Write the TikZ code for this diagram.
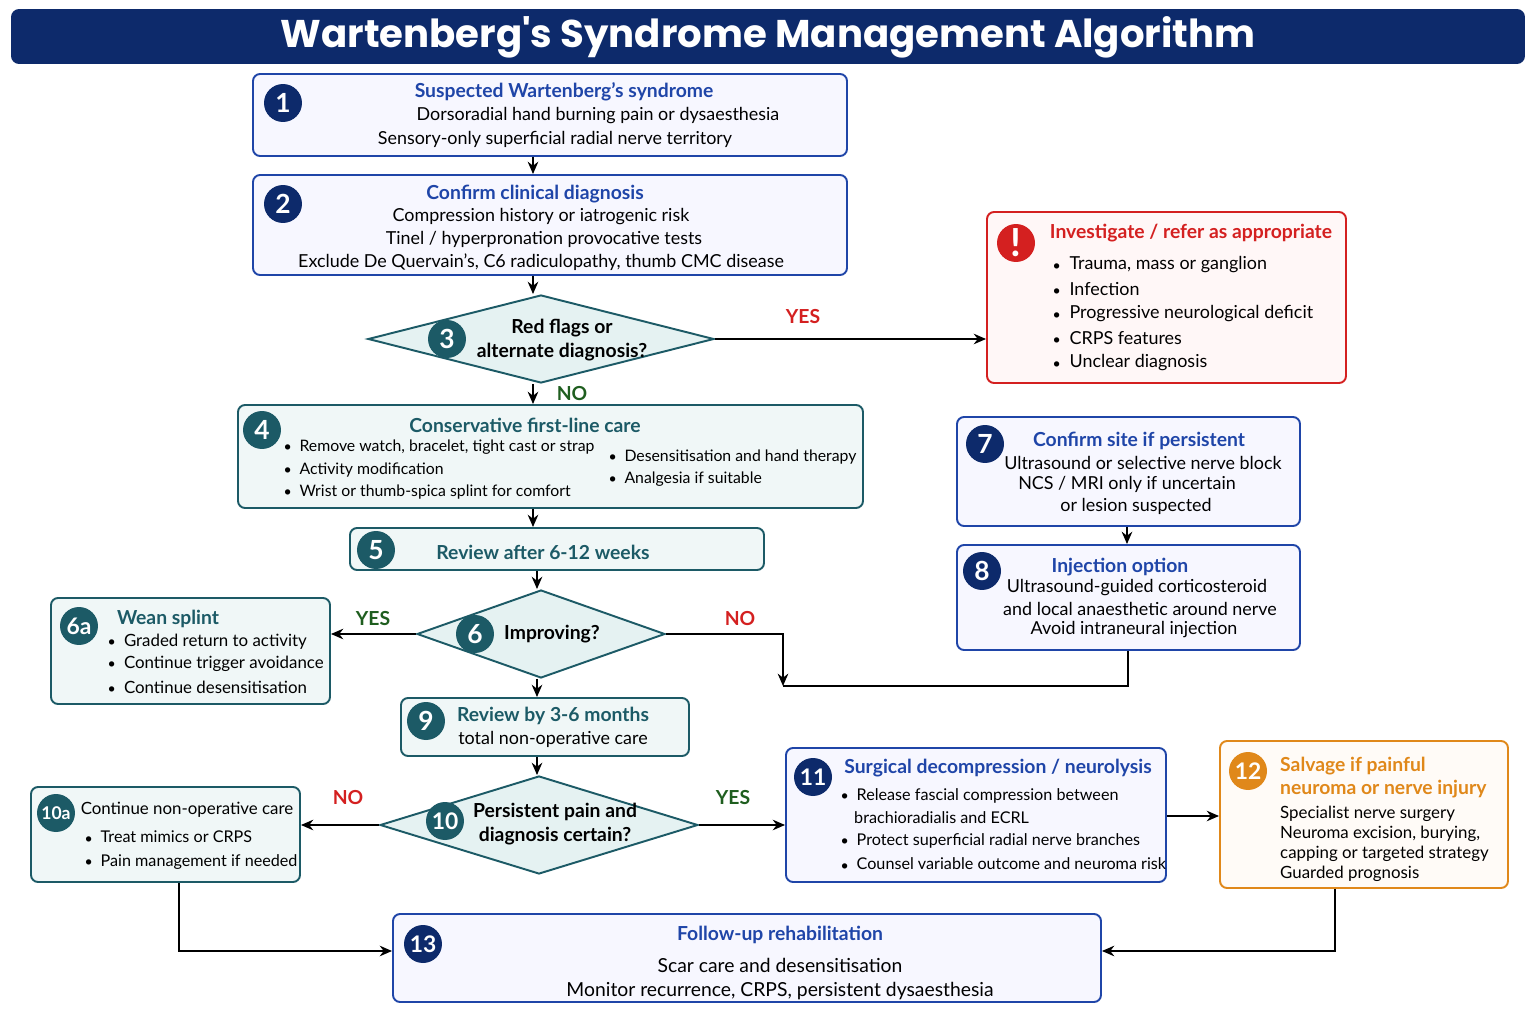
\documentclass[tikz,border=0pt]{standalone}
\usepackage{fontspec}
\setmainfont{Lato}
\newfontfamily\titlefont{Poppins}
\usetikzlibrary{shapes.geometric,arrows.meta}
\definecolor{navy}{HTML}{0D2A6B}
\definecolor{bblue}{HTML}{1F45A8}
\definecolor{tteal}{HTML}{1C5A66}
\definecolor{rred}{HTML}{D42020}
\definecolor{oorange}{HTML}{E0881A}
\definecolor{ggreen}{HTML}{1F5E1F}
\newcommand{\bul}{\raisebox{0.1ex}{\scriptsize$\bullet$}}
\begin{document}
\begin{tikzpicture}[x=0.02cm,y=-0.02cm,font=\fontsize{10.2}{11}\selectfont]
	\tikzstyle{box}=[draw,rounded corners=4pt,line width=1.1pt,inner sep=0pt]
	\tikzstyle{b-box}=[box,draw=bblue,fill=blue!3]
	\tikzstyle{t-box}=[box,draw=tteal,fill=teal!6]
	\tikzstyle{r-box}=[box,draw=rred,fill=red!3]
	\tikzstyle{o-box}=[box,draw=oorange,fill=orange!3]
	\tikzstyle{dec}=[diamond,draw=tteal,fill=teal!10,line width=1.1pt,inner sep=0pt]
	\tikzstyle{badge}=[circle,inner sep=0pt,minimum size=0.76cm,text=white,font=\fontsize{15}{15}\selectfont\bfseries]
	\tikzstyle{b-title}=[text=bblue,font=\fontsize{11}{12}\selectfont\bfseries]
	\tikzstyle{t-title}=[text=tteal,font=\fontsize{11}{12}\selectfont\bfseries]
	\tikzstyle{bul}=[anchor=west]
	\tikzstyle{sbul}=[anchor=west,font=\fontsize{9}{10}\selectfont]
	\tikzstyle{arr}=[-{Stealth[length=7pt,width=6pt]},line width=1.1pt]
	\tikzstyle{yes}=[text=ggreen,font=\fontsize{11}{12}\selectfont\bfseries]
	\tikzstyle{no}=[text=rred,font=\fontsize{11}{12}\selectfont\bfseries]
	\def\bx#1#2#3#4#5#6{\node[#2,minimum width={(#5-#3)*0.02cm},minimum height={(#6-#4)*0.02cm}] (#1) at ({(#3+#5)/2},{(#4+#6)/2}) {};}
	\useasboundingbox[fill=white] (0,0) rectangle (1536,1024);

	% title
	\bx{title}{box,fill=navy,draw=navy}{12}{10}{1524}{63}
	\node[text=white,font=\titlefont\fontsize{22}{24}\selectfont\bfseries] (ttext) at (768,37) {Wartenberg's Syndrome Management Algorithm};

	% boxes
	\bx{b1}{b-box}{253}{74}{847}{156}
	\bx{b2}{b-box}{253}{175}{847}{275}
	\node[dec,minimum width=6.92cm,minimum height=1.76cm] (d3) at (541,339) {};
	\bx{bred}{r-box}{987}{212}{1346}{383}
	\bx{b4}{t-box}{238}{405}{863}{508}
	\bx{b5}{t-box}{350}{528}{764}{570}
	\node[dec,minimum width=4.96cm,minimum height=1.76cm] (d6) at (541,634) {};
	\bx{b6a}{t-box}{51}{598}{330}{704}
	\bx{b7}{b-box}{957}{417}{1300}{526}
	\bx{b8}{b-box}{957}{545}{1300}{650}
	\bx{b9}{t-box}{401}{698}{689}{756}
	\node[dec,minimum width=6.36cm,minimum height=1.96cm] (d10) at (539,825) {};
	\bx{b10a}{t-box}{31}{787}{300}{882}
	\bx{b11}{b-box}{786}{748}{1166}{882}
	\bx{b12}{o-box}{1220}{741}{1508}{888}
	\bx{b13}{b-box}{393}{914}{1101}{1002}

	% badges
	\node[badge,fill=navy] (n1) at (283,103) {1};
	\node[badge,fill=navy] (n2) at (283,204) {2};
	\node[badge,fill=tteal] (n3) at (447,339) {3};
	\node[badge,fill=rred,font=\fontsize{22}{22}\selectfont\bfseries] (nx) at (1016,243) {!};
	\node[badge,fill=tteal] (n4) at (262,430) {4};
	\node[badge,fill=tteal] (n5) at (376,550) {5};
	\node[badge,fill=tteal] (n6) at (475,634) {6};
	\node[badge,fill=tteal,font=\fontsize{13}{13}\selectfont\bfseries] (n6a) at (79,626) {6a};
	\node[badge,fill=navy] (n7) at (985,444) {7};
	\node[badge,fill=navy] (n8) at (982,571) {8};
	\node[badge,fill=tteal] (n9) at (426,721) {9};
	\node[badge,fill=tteal,font=\fontsize{13}{13}\selectfont\bfseries] (n10) at (445,821) {10};
	\node[badge,fill=tteal,font=\fontsize{10}{10}\selectfont\bfseries] (n10a) at (56,813) {10a};
	\node[badge,fill=navy,font=\fontsize{13}{13}\selectfont\bfseries] (n11) at (813,777) {11};
	\node[badge,fill=oorange,font=\fontsize{13}{13}\selectfont\bfseries] (n12) at (1248,771) {12};
	\node[badge,fill=navy,font=\fontsize{13}{13}\selectfont\bfseries] (n13) at (423,944) {13};

	% texts
	\node[b-title] (t1) at (564,92) {Suspected Wartenberg's syndrome};
	\node (t1a) at (598,116) {Dorsoradial hand burning pain or dysaesthesia};
	\node (t1b) at (555,139) {Sensory-only superficial radial nerve territory};
	\node[b-title] (t2) at (535,194) {Confirm clinical diagnosis};
	\node (t2a) at (541,217) {Compression history or iatrogenic risk};
	\node (t2b) at (544,239) {Tinel / hyperpronation provocative tests};
	\node (t2c) at (541,262) {Exclude De Quervain's, C6 radiculopathy, thumb CMC disease};
	\node[font=\fontsize{11}{13.5}\selectfont\bfseries,align=center] (t3) at (562,340) {Red flags or\\alternate diagnosis?};
	\node[text=rred,font=\fontsize{11}{12}\selectfont\bfseries] (tr) at (1191,233) {Investigate / refer as appropriate};
	\node[bul] (tr1) at (1047,265) {\bul\ \ Trauma, mass or ganglion};
	\node[bul] (tr2) at (1047,289) {\bul\ \ Infection};
	\node[bul] (tr3) at (1047,314) {\bul\ \ Progressive neurological deficit};
	\node[bul] (tr4) at (1047,338) {\bul\ \ CRPS features};
	\node[bul] (tr5) at (1047,363) {\bul\ \ Unclear diagnosis};
	\node[t-title] (t4) at (525,425) {Conservative first-line care};
	\node[sbul] (t4a) at (278,447) {\bul\ \ Remove watch, bracelet, tight cast or strap};
	\node[sbul] (t4b) at (278,470) {\bul\ \ Activity modification};
	\node[sbul] (t4c) at (278,492) {\bul\ \ Wrist or thumb-spica splint for comfort};
	\node[sbul] (t4d) at (603,457) {\bul\ \ Desensitisation and hand therapy};
	\node[sbul] (t4e) at (603,479) {\bul\ \ Analgesia if suitable};
	\node[t-title] (t5) at (543,552) {Review after 6-12 weeks};
	\node[font=\fontsize{11}{12}\selectfont\bfseries] (t6) at (552,634) {Improving?};
	\node[t-title] (t6a) at (168,619) {Wean splint};
	\node[sbul,font=\fontsize{9.6}{11}\selectfont] (t6a1) at (102,642) {\bul\ \ Graded return to activity};
	\node[sbul,font=\fontsize{9.6}{11}\selectfont] (t6a2) at (102,664) {\bul\ \ Continue trigger avoidance};
	\node[sbul,font=\fontsize{9.6}{11}\selectfont] (t6a3) at (102,687) {\bul\ \ Continue desensitisation};
	\node[b-title] (t7) at (1139,441) {Confirm site if persistent};
	\node (t7a) at (1143,463) {Ultrasound or selective nerve block};
	\node (t7b) at (1127,484) {NCS / MRI only if uncertain};
	\node (t7c) at (1136,506) {or lesion suspected};
	\node[b-title] (t8) at (1120,567) {Injection option};
	\node (t8a) at (1137,588) {Ultrasound-guided corticosteroid};
	\node (t8b) at (1140,609) {and local anaesthetic around nerve};
	\node (t8c) at (1134,630) {Avoid intraneural injection};
	\node[t-title] (t9) at (553,716) {Review by 3-6 months};
	\node (t9a) at (553,739) {total non-operative care};
	\node[font=\fontsize{11}{13.5}\selectfont\bfseries,align=center] (t10) at (555,824) {Persistent pain and\\diagnosis certain?};
	\node[font=\fontsize{9.6}{11}\selectfont] (t10a) at (187,810) {Continue non-operative care};
	\node[sbul,font=\fontsize{9.2}{11}\selectfont] (t10a1) at (79,837) {\bul\ \ Treat mimics or CRPS};
	\node[sbul,font=\fontsize{9.2}{11}\selectfont] (t10a2) at (79,862) {\bul\ \ Pain management if needed};
	\node[b-title] (t11) at (998,768) {Surgical decompression / neurolysis};
	\node[sbul,font=\fontsize{9.2}{11}\selectfont] (t11a) at (835,796) {\bul\ \ Release fascial compression between};
	\node[sbul,font=\fontsize{9.2}{11}\selectfont] (t11b) at (848,818) {brachioradialis and ECRL};
	\node[sbul,font=\fontsize{9.2}{11}\selectfont] (t11c) at (835,841) {\bul\ \ Protect superficial radial nerve branches};
	\node[sbul,font=\fontsize{9.2}{11}\selectfont] (t11d) at (835,864) {\bul\ \ Counsel variable outcome and neuroma risk};
	\node[anchor=north west,text=oorange,font=\fontsize{11}{13}\selectfont\bfseries,align=left] (t12) at (1274,751) {Salvage if painful\\neuroma or nerve injury};
	\node[anchor=north west,font=\fontsize{9.6}{11.4}\selectfont,align=left] (t12a) at (1274,800) {Specialist nerve surgery\\Neuroma excision, burying,\\capping or targeted strategy\\Guarded prognosis};
	\node[b-title] (t13) at (780,935) {Follow-up rehabilitation};
	\node[font=\fontsize{11}{12}\selectfont] (t13a) at (780,965) {Scar care and desensitisation};
	\node[font=\fontsize{11}{12}\selectfont] (t13b) at (780,991) {Monitor recurrence, CRPS, persistent dysaesthesia};

	% labels
	\node[no] (l3y) at (803,317) {YES};
	\node[yes] (l3n) at (572,394) {NO};
	\node[yes] (l6y) at (373,619) {YES};
	\node[no] (l6n) at (740,619) {NO};
	\node[no] (l10n) at (348,798) {NO};
	\node[yes] (l10y) at (733,798) {YES};

	% connectors
	\coordinate (j6) at (783,686);
	\draw[arr] (b1.south -| 533,0) -- (b2.north -| 533,0);
	\draw[arr] (b2.south -| 533,0) -- (d3.north -| 533,0);
	\draw[arr] (d3.east) -- (bred.west |- d3.east);
	\draw[arr] (d3.south -| 533,0) -- (b4.north -| 533,0);
	\draw[arr] (b4.south -| 533,0) -- (b5.north -| 533,0);
	\draw[arr] (b5.south -| 537,0) -- (d6.north -| 537,0);
	\draw[arr] (d6.west) -- (b6a.east |- d6.west);
	\draw[arr] (d6.east) -| (j6);
	\draw[line width=1.1pt] (b8.south -| 1128,0) |- (j6);
	\draw[arr] (b7.south -| 1127,0) -- (b8.north -| 1127,0);
	\draw[arr] (d6.south -| 537,0) -- (b9.north -| 537,0);
	\draw[arr] (b9.south -| 537,0) -- (d10.north -| 537,0);
	\draw[arr] (d10.west) -- (b10a.east |- d10.west);
	\draw[arr] (d10.east) -- (b11.west |- d10.east);
	\draw[arr] (b11.east |- 0,816) -- (b12.west |- 0,816);
	\draw[arr] (b10a.south -| 179,0) |- (b13.west |- 0,951);
	\draw[arr] (b12.south -| 1335,0) |- (b13.east |- 0,951);
\end{tikzpicture}
\end{document}
